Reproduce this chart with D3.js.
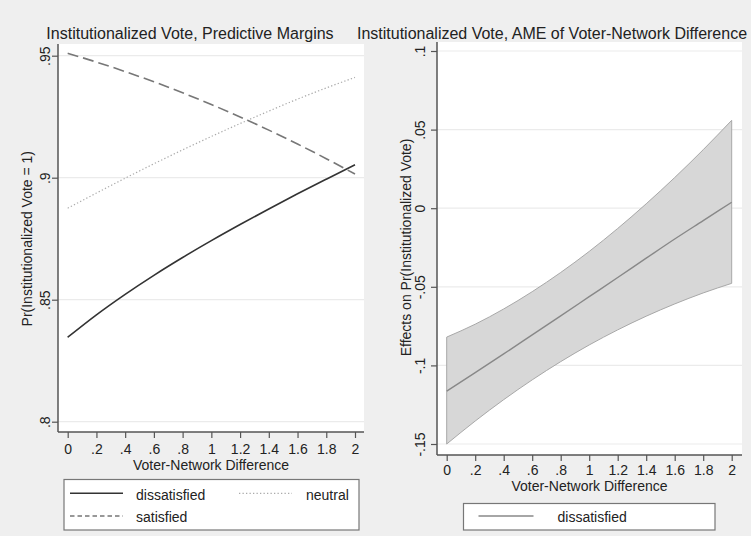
<!DOCTYPE html>
<html>
<head>
<meta charset="utf-8">
<script src="https://cdn.jsdelivr.net/npm/d3@7"></script>
<style>
  html, body { margin: 0; padding: 0; background: #efefef; }
  svg { display: block; font-family: 'Liberation Sans', Arial, Helvetica, sans-serif; }
</style>
</head>
<body>
<div id="chart"></div>
<script>
// x values shared by both panels
const xVals = [0, 0.2, 0.4, 0.6, 0.8, 1, 1.2, 1.4, 1.6, 1.8, 2];
const xTickLabels = ['0', '.2', '.4', '.6', '.8', '1', '1.2', '1.4', '1.6', '1.8', '2'];

// left panel: predictive margins
const dissatisfied = [0.8346, 0.8438, 0.8522, 0.8600, 0.8673, 0.8742, 0.8808, 0.8872, 0.8934, 0.8994, 0.9053];
const neutral = [0.8875, 0.8937, 0.8998, 0.9057, 0.9114, 0.9169, 0.9222, 0.9273, 0.9322, 0.9368, 0.9411];
const satisfied = [0.9510, 0.9474, 0.9435, 0.9393, 0.9348, 0.9300, 0.9249, 0.9195, 0.9138, 0.9078, 0.9015];
const leftYTicks = [0.8, 0.85, 0.9, 0.95];
const leftYTickLabels = ['.8', '.85', '.9', '.95'];

// right panel: AME with confidence band
const ameMid = [-0.1164, -0.1046, -0.0927, -0.0806, -0.0685, -0.0563, -0.0441, -0.0318, -0.0196, -0.0079, 0.0038];
const ameLow = [-0.1500, -0.1354, -0.1218, -0.1092, -0.0976, -0.0870, -0.0774, -0.0687, -0.0609, -0.0539, -0.0478];
const ameHigh = [-0.0820, -0.0738, -0.0641, -0.0531, -0.0409, -0.0275, -0.0129, 0.0028, 0.0195, 0.0372, 0.0559];
const rightYTicks = [-0.15, -0.1, -0.05, 0, 0.05, 0.1];
const rightYTickLabels = ['-.15', '-.1', '-.05', '0', '.05', '.1'];

const W = 751, H = 536;
const textColor = '#222';

const svg = d3.select('#chart').append('svg')
  .attr('width', W)
  .attr('height', H);

svg.append('rect').attr('width', W).attr('height', H).attr('fill', '#efefef');

function drawPanel(cfg) {
  const x = d3.scaleLinear().domain([0, 2]).range(cfg.xRange);
  const y = d3.scaleLinear().domain(cfg.yDomain).range(cfg.yRange);
  const p = cfg.plot;

  const g = svg.append('g');

  // white plot region
  g.append('rect')
    .attr('x', p.x0).attr('y', p.y0)
    .attr('width', p.x1 - p.x0).attr('height', p.y1 - p.y0)
    .attr('fill', '#fff');

  // gridlines
  g.selectAll('.grid')
    .data(cfg.yTicks)
    .enter()
    .append('line')
    .attr('x1', p.x0).attr('x2', p.x1)
    .attr('y1', (d) => y(d)).attr('y2', (d) => y(d))
    .style('stroke', '#ebebeb')
    .style('stroke-width', 1.2);

  // y axis
  const yAxis = g.append('g')
    .attr('transform', `translate(${p.x0},0)`)
    .call(d3.axisLeft(y).tickValues(cfg.yTicks).tickSize(6).tickSizeOuter(0)
      .tickFormat((d, i) => cfg.yTickLabels[i]));
  yAxis.select('.domain').remove();
  yAxis.selectAll('.tick line').style('stroke', '#555').style('stroke-width', 1.2);
  yAxis.selectAll('.tick text')
    .attr('x', null).attr('dy', null)
    .attr('transform', `translate(${-cfg.yLabelOffset},0) rotate(-90)`)
    .style('text-anchor', 'middle')
    .style('font-size', '14px')
    .style('fill', textColor);

  // x axis
  const xAxis = g.append('g')
    .attr('transform', `translate(0,${p.y1})`)
    .call(d3.axisBottom(x).tickValues(xVals).tickSize(6).tickSizeOuter(0)
      .tickFormat((d, i) => xTickLabels[i]));
  xAxis.select('.domain').remove();
  xAxis.selectAll('.tick line').style('stroke', '#555').style('stroke-width', 1.2);
  xAxis.selectAll('.tick text')
    .attr('y', cfg.xLabelOffset).attr('dy', null)
    .style('font-size', '14px')
    .style('fill', textColor);

  // axis lines
  g.append('line')
    .attr('x1', p.x0).attr('x2', p.x0).attr('y1', p.y0).attr('y2', p.y1)
    .style('stroke', '#555').style('stroke-width', 1.5);
  g.append('line')
    .attr('x1', p.x0).attr('x2', p.x1).attr('y1', p.y1).attr('y2', p.y1)
    .style('stroke', '#555').style('stroke-width', 1.5);

  // titles
  g.append('text')
    .attr('x', cfg.titleX).attr('y', cfg.titleY)
    .style('text-anchor', 'middle')
    .style('font-size', '16px')
    .style('fill', textColor)
    .text(cfg.title);

  g.append('text')
    .attr('x', (p.x0 + p.x1) / 2).attr('y', cfg.xTitleY)
    .style('text-anchor', 'middle')
    .style('font-size', '14px')
    .style('fill', textColor)
    .text('Voter-Network Difference');

  g.append('text')
    .attr('transform', `translate(${cfg.yTitleX},${(cfg.yRange[0] + cfg.yRange[1]) / 2}) rotate(-90)`)
    .style('text-anchor', 'middle')
    .style('font-size', '14px')
    .style('fill', textColor)
    .text(cfg.yTitle);

  return { g, x, y };
}

// ---------- left panel ----------
const left = drawPanel({
  plot: { x0: 58, x1: 364, y0: 44, y1: 432 },
  xRange: [67.7, 355],
  yDomain: [0.8, 0.95],
  yRange: [421.7, 55.7],
  yTicks: leftYTicks,
  yTickLabels: leftYTickLabels,
  yLabelOffset: 8,
  xLabelOffset: 21.5,
  title: 'Institutionalized Vote, Predictive Margins',
  titleX: 190,
  titleY: 39,
  xTitleY: 469.5,
  yTitleX: 31.5,
  yTitle: 'Pr(Institutionalized Vote = 1)'
});

const leftSeries = [
  { name: 'dissatisfied', values: dissatisfied, color: '#333', width: 1.6, dash: null },
  { name: 'neutral', values: neutral, color: '#aaa', width: 1.2, dash: '1.3,2.2' },
  { name: 'satisfied', values: satisfied, color: '#777', width: 1.6, dash: '11,5' }
];

const lineL = d3.line()
  .x((d, i) => left.x(xVals[i]))
  .y((d) => left.y(d))
  .curve(d3.curveMonotoneX);

left.g.selectAll('.series')
  .data(leftSeries)
  .enter()
  .append('path')
  .attr('d', (s) => lineL(s.values))
  .style('fill', 'none')
  .style('stroke', (s) => s.color)
  .style('stroke-width', (s) => s.width)
  .style('stroke-dasharray', (s) => s.dash);

// left legend
const legL = svg.append('g');
legL.append('rect')
  .attr('x', 64).attr('y', 479.5).attr('width', 295).attr('height', 50.5)
  .style('fill', '#fff').style('stroke', '#777').style('stroke-width', 1.2);

const legItems = [
  { s: leftSeries[0], lx: 70, ly: 493.3, tx: 136, ty: 499.5 },
  { s: leftSeries[1], lx: 239, ly: 493.3, tx: 306, ty: 499.5 },
  { s: leftSeries[2], lx: 70, ly: 516, tx: 136, ty: 522 }
];
legItems.forEach((it) => {
  legL.append('line')
    .attr('x1', it.lx).attr('x2', it.lx + 53).attr('y1', it.ly).attr('y2', it.ly)
    .style('stroke', it.s.color)
    .style('stroke-width', it.s.width)
    .style('stroke-dasharray', it.s.dash === '11,5' ? '4.5,3' : it.s.dash);
  legL.append('text')
    .attr('x', it.tx).attr('y', it.ty)
    .style('font-size', '14px')
    .style('fill', textColor)
    .text(it.s.name);
});

// ---------- right panel ----------
const right = drawPanel({
  plot: { x0: 437, x1: 742, y0: 42, y1: 455 },
  xRange: [446.7, 731.7],
  yDomain: [-0.15, 0.1],
  yRange: [444, 51],
  yTicks: rightYTicks,
  yTickLabels: rightYTickLabels,
  yLabelOffset: 12,
  xLabelOffset: 19.5,
  title: 'Institutionalized Vote, AME of Voter-Network Difference',
  titleX: 552,
  titleY: 39,
  xTitleY: 491,
  yTitleX: 410.5,
  yTitle: 'Effects on Pr(Institutionalized Vote)'
});

const area = d3.area()
  .x((d, i) => right.x(xVals[i]))
  .y0((d, i) => right.y(ameLow[i]))
  .y1((d, i) => right.y(ameHigh[i]))
  .curve(d3.curveMonotoneX);

right.g.append('path')
  .attr('d', area(xVals))
  .style('fill', '#d7d7d7')
  .style('stroke', '#a8a8a8')
  .style('stroke-width', 1);

const lineR = d3.line()
  .x((d, i) => right.x(xVals[i]))
  .y((d) => right.y(d))
  .curve(d3.curveMonotoneX);

right.g.append('path')
  .attr('d', lineR(ameMid))
  .style('fill', 'none')
  .style('stroke', '#888')
  .style('stroke-width', 1.4);

// right legend
const legR = svg.append('g');
legR.append('rect')
  .attr('x', 463.5).attr('y', 503.5).attr('width', 251.5).attr('height', 26.5)
  .style('fill', '#fff').style('stroke', '#777').style('stroke-width', 1.2);
legR.append('line')
  .attr('x1', 478.5).attr('x2', 533.5).attr('y1', 516).attr('y2', 516)
  .style('stroke', '#888').style('stroke-width', 1.4);
legR.append('text')
  .attr('x', 557.5).attr('y', 522)
  .style('font-size', '14px')
  .style('fill', textColor)
  .text('dissatisfied');
</script>
</body>
</html>
